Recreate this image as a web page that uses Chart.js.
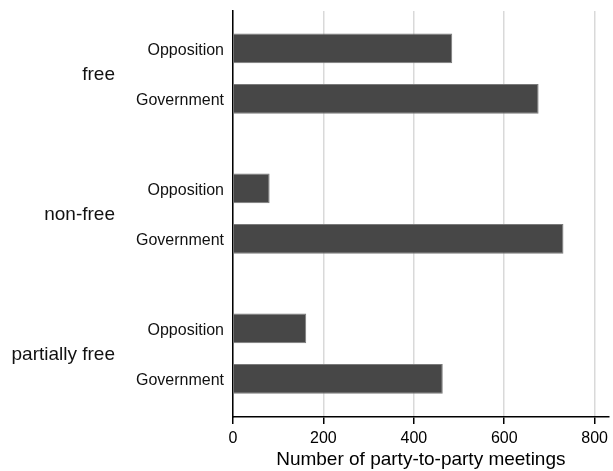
<!DOCTYPE html>
<html lang="en">
<head>
  <meta charset="UTF-8">
  <title>Party-to-party meetings</title>
  <script src="https://cdn.jsdelivr.net/npm/chart.js"></script>
  <style>
    html, body { margin: 0; padding: 0; background: #fff; }
    canvas { display: block; }
  </style>
</head>
<body>
  <canvas id="chart" width="613" height="471"></canvas>

  <script>
    // regime groups, top to bottom
    const groups = ["free", "non-free", "partially free"];
    const seriesNames = ["Opposition", "Government"];
    const opposition = [485, 81, 162];
    const government = [676, 731, 464];
    const xTicks = [0, 200, 400, 600, 800];
    const xTitle = "Number of party-to-party meetings";

    const FONT = '"Liberation Sans", Arial, sans-serif';

    // labels left of the bars: series name per bar, group name per block
    const sideLabels = {
      id: "sideLabels",
      afterDatasetsDraw(chart) {
        const ctx = chart.ctx;
        const y = chart.scales.y;
        ctx.save();
        ctx.fillStyle = "#111";
        ctx.textAlign = "right";
        ctx.textBaseline = "middle";
        ctx.font = "16px " + FONT;
        chart.data.datasets.forEach((ds, di) => {
          chart.getDatasetMeta(di).data.forEach(bar => {
            ctx.fillText(ds.label, 224, bar.y + 2);
          });
        });
        ctx.font = "19px " + FONT;
        groups.forEach((g, i) => {
          ctx.fillText(g, 115, y.getPixelForValue(i) + 1);
        });
        ctx.restore();
      }
    };

    const ctx = document.getElementById("chart").getContext("2d");
    new Chart(ctx, {
      type: "bar",
      data: {
        datasets: [
          {
            label: seriesNames[0],
            data: opposition.map((v, i) => ({ x: v, y: i })),
            backgroundColor: "#474747",
            borderColor: "#7a7a7a",
            borderWidth: 1
          },
          {
            label: seriesNames[1],
            data: government.map((v, i) => ({ x: v, y: i })),
            backgroundColor: "#474747",
            borderColor: "#7a7a7a",
            borderWidth: 1
          }
        ]
      },
      options: {
        indexAxis: "y",
        responsive: false,
        animation: false,
        devicePixelRatio: 1,
        categoryPercentage: 0.72,
        barPercentage: 0.59,
        layout: { padding: { top: 11, right: 0, bottom: 0, left: 0 } },
        plugins: {
          legend: { display: false },
          tooltip: { enabled: false }
        },
        scales: {
          y: {
            type: "linear",
            reverse: true,
            offset: false,
            min: -0.447,
            max: 2.452,
            afterBuildTicks: s => { s.ticks = groups.map((g, i) => ({ value: i })); },
            afterFit: s => { s.width = 233; },
            ticks: { display: false },
            grid: { display: false, offset: false },
            border: { display: true, color: "#000", width: 1.5 }
          },
          x: {
            type: "linear",
            min: 0,
            max: 831,
            afterBuildTicks: s => { s.ticks = xTicks.map(v => ({ value: v })); },
            afterFit: s => { s.height = 54; },
            ticks: {
              color: "#000",
              padding: 5,
              font: { family: FONT, size: 16 }
            },
            grid: {
              color: "#d9d9d9",
              lineWidth: 1.5,
              tickColor: "#000",
              tickLength: 7,
              tickWidth: 1.5
            },
            border: { display: true, color: "#000", width: 1.5 },
            title: {
              display: true,
              text: xTitle,
              color: "#000",
              font: { family: FONT, size: 19, lineHeight: 1 },
              padding: { top: 0, bottom: 2 }
            }
          }
        }
      },
      plugins: [sideLabels]
    });
  </script>
</body>
</html>
